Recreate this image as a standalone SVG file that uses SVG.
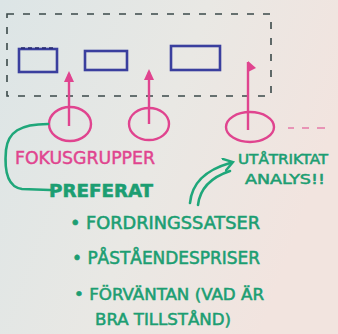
<svg xmlns="http://www.w3.org/2000/svg" width="338" height="334" viewBox="0 0 338 334">
  <defs>
    <linearGradient id="board" x1="0" y1="0" x2="1" y2="0.35">
      <stop offset="0" stop-color="#dce5e6"/>
      <stop offset="0.55" stop-color="#e9e8e4"/>
      <stop offset="1" stop-color="#f2e4df"/>
    </linearGradient>
    <marker id="pinkHead" markerWidth="12" markerHeight="10" refX="8" refY="5" orient="auto" markerUnits="userSpaceOnUse">
      <path d="M0,0 L11,5 L0,10 Z" fill="#e0448f"/>
    </marker>
    <marker id="greenHead" markerWidth="14" markerHeight="14" refX="7" refY="7" orient="auto" markerUnits="userSpaceOnUse">
      <path d="M1,1 L10,7 L1,13" fill="none" stroke="#1fa77a" stroke-width="2.5" stroke-linecap="round"/>
    </marker>
  </defs>
  <style>
    .blue { fill: none; stroke: #3a3f9e; stroke-width: 2.6; }
    .pink { fill: none; stroke: #e0448f; stroke-width: 2.4; }
    .green { fill: none; stroke: #1fa77a; stroke-width: 2.6; stroke-linecap: round; }
    .frame { fill: none; stroke: #3b4a4a; stroke-width: 1.6; stroke-dasharray: 7 9; }
    .ptext { fill: #e0448f; stroke: #e0448f; stroke-width: 0.4; font-family: "DejaVu Sans Condensed", "Liberation Sans", sans-serif; }
    .gtext { fill: #1c9e72; stroke: #1c9e72; stroke-width: 0.5; font-family: "DejaVu Sans Condensed", "Liberation Sans", sans-serif; }
  </style>

  <rect width="338" height="334" fill="url(#board)"/>

  <!-- dashed system boundary -->
  <g id="boundary">
    <rect class="frame" x="7" y="14" width="264" height="82"/>
  </g>

  <!-- three boxes inside the boundary -->
  <g id="box1">
    <rect class="blue" x="19" y="49" width="38" height="23" stroke="#262a6e"/>
    <line x1="21" y1="48" x2="55" y2="48" stroke="#262a6e" stroke-width="1.4" stroke-dasharray="4 3"/>
  </g>
  <g id="box2">
    <rect class="blue" x="85" y="51" width="42" height="19"/>
  </g>
  <g id="box3">
    <rect class="blue" x="171" y="46" width="49" height="24"/>
  </g>

  <!-- focus group circles -->
  <g id="circle1">
    <ellipse class="pink" cx="70" cy="124" rx="21" ry="17"/>
  </g>
  <g id="circle2">
    <ellipse class="pink" cx="149" cy="124" rx="20" ry="16"/>
  </g>
  <g id="circle3">
    <ellipse class="pink" cx="250" cy="127" rx="24" ry="15"/>
  </g>

  <g id="connectors">
    <line class="pink" x1="69" y1="126" x2="69" y2="74" marker-end="url(#pinkHead)"/>
    <line class="pink" x1="149" y1="124" x2="149" y2="72" marker-end="url(#pinkHead)"/>
    <line class="pink" x1="248" y1="130" x2="248" y2="62"/>
    <path d="M248,61 L256,68 L248,72 Z" fill="#e0448f"/>
    <!-- trailing dashes -->
    <path d="M288,128 h6 M302,128 h7 M317,128 h8" stroke="#e57aa8" stroke-width="1.6" fill="none"/>
    <!-- bracket from circle to PREFERAT -->
    <path class="green" d="M48,124 C20,124 8,132 6,150 C4,172 8,187 22,189 L50,190" stroke="#1a8a68"/>
    <!-- curved double arrow -->
    <path class="green" d="M190,203 C192,182 206,170 230,163" marker-end="url(#greenHead)"/>
    <path class="green" d="M198,205 C200,188 212,177 230,171"/>
  </g>

  <g id="labels">
    <text class="ptext" x="15" y="164" font-size="17" textLength="140" lengthAdjust="spacingAndGlyphs">FOKUSGRUPPER</text>
    <text class="gtext" x="49" y="197" font-size="17" font-weight="bold" textLength="104" lengthAdjust="spacingAndGlyphs">PREFERAT</text>
    <text class="gtext" x="238" y="164" font-size="14" textLength="90" lengthAdjust="spacingAndGlyphs">UTÅTRIKTAT</text>
    <text class="gtext" x="245" y="184" font-size="14" textLength="80" lengthAdjust="spacingAndGlyphs">ANALYS!!</text>
    <text class="gtext" x="70" y="229" font-size="17" textLength="190" lengthAdjust="spacingAndGlyphs">• FORDRINGSSATSER</text>
    <text class="gtext" x="72" y="264" font-size="17" textLength="188" lengthAdjust="spacingAndGlyphs">• PÅSTÅENDESPRISER</text>
    <text class="gtext" x="74" y="300" font-size="16" textLength="190" lengthAdjust="spacingAndGlyphs">• FÖRVÄNTAN (VAD ÄR</text>
    <text class="gtext" x="95" y="325" font-size="16" textLength="136" lengthAdjust="spacingAndGlyphs">BRA TILLSTÅND)</text>
  </g>
</svg>
